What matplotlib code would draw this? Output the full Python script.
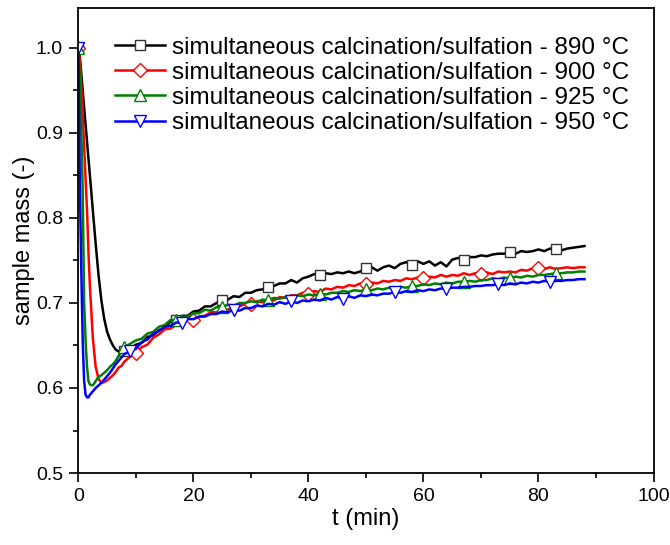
import numpy as np
import matplotlib
matplotlib.use("Agg")
import matplotlib.pyplot as plt
from matplotlib.ticker import MultipleLocator

plt.rcParams['font.family'] = ['Liberation Sans', 'DejaVu Sans']

# time grid (min)
t_early = [0, 0.25, 0.5, 0.75, 1.0, 1.25, 1.5, 1.75, 2.0, 2.5, 3.0, 3.5, 4.0, 4.5,
           5.0, 5.5, 6.0, 6.5, 7.0, 7.5, 8.0]
t_late = list(range(9, 89))
t = np.array(t_early + t_late, dtype=float)

m890 = [1.000, 0.990, 0.970, 0.950, 0.930, 0.910, 0.890, 0.870, 0.850, 0.810, 0.770,
        0.733, 0.703, 0.681, 0.666, 0.657, 0.650, 0.645, 0.643, 0.642, 0.643,
        0.646, 0.651, 0.653, 0.660, 0.662, 0.668, 0.671, 0.678, 0.680, 0.685,
        0.685, 0.690, 0.691, 0.696, 0.696, 0.700, 0.703, 0.704, 0.708, 0.707,
        0.712, 0.712, 0.715, 0.716, 0.719, 0.720, 0.723, 0.723, 0.727, 0.724,
        0.729, 0.731, 0.734, 0.733, 0.735, 0.734, 0.736, 0.735, 0.737, 0.735,
        0.737, 0.741, 0.742, 0.738, 0.742, 0.744, 0.741, 0.746, 0.748, 0.745,
        0.749, 0.746, 0.749, 0.744, 0.748, 0.743, 0.751, 0.753, 0.751, 0.754,
        0.754, 0.756, 0.755, 0.757, 0.758, 0.758, 0.760, 0.758, 0.761, 0.760,
        0.761, 0.763, 0.761, 0.764, 0.763, 0.762, 0.764, 0.765, 0.766, 0.767]

m900 = [1.000, 0.985, 0.955, 0.920, 0.885, 0.845, 0.810, 0.760, 0.720, 0.660, 0.625,
        0.611, 0.606, 0.607, 0.609, 0.612, 0.615, 0.619, 0.624, 0.626, 0.631,
        0.637, 0.641, 0.648, 0.651, 0.659, 0.663, 0.669, 0.670, 0.674, 0.675,
        0.680, 0.680, 0.684, 0.685, 0.689, 0.689, 0.693, 0.692, 0.696, 0.696,
        0.699, 0.699, 0.702, 0.701, 0.704, 0.703, 0.707, 0.706, 0.709, 0.709,
        0.712, 0.711, 0.714, 0.713, 0.717, 0.716, 0.719, 0.718, 0.721, 0.720,
        0.723, 0.722, 0.724, 0.723, 0.726, 0.725, 0.727, 0.726, 0.729, 0.728,
        0.730, 0.729, 0.731, 0.730, 0.733, 0.731, 0.733, 0.732, 0.735, 0.733,
        0.735, 0.734, 0.736, 0.734, 0.737, 0.736, 0.737, 0.736, 0.739, 0.738,
        0.741, 0.741, 0.740, 0.742, 0.740, 0.741, 0.742, 0.741, 0.742, 0.742]

m925 = [1.000, 0.960, 0.905, 0.830, 0.700, 0.655, 0.625, 0.608, 0.604, 0.603, 0.608,
        0.613, 0.615, 0.618, 0.621, 0.625, 0.628, 0.632, 0.638, 0.643, 0.648,
        0.652, 0.656, 0.658, 0.664, 0.666, 0.672, 0.674, 0.680, 0.680, 0.684,
        0.684, 0.688, 0.688, 0.692, 0.691, 0.695, 0.695, 0.698, 0.697, 0.700,
        0.700, 0.702, 0.701, 0.704, 0.703, 0.706, 0.705, 0.707, 0.706, 0.709,
        0.708, 0.710, 0.709, 0.711, 0.710, 0.712, 0.712, 0.714, 0.713, 0.715,
        0.714, 0.716, 0.715, 0.717, 0.716, 0.718, 0.717, 0.719, 0.718, 0.720,
        0.720, 0.722, 0.721, 0.723, 0.722, 0.724, 0.723, 0.725, 0.725, 0.726,
        0.725, 0.727, 0.727, 0.729, 0.728, 0.730, 0.729, 0.731, 0.730, 0.732,
        0.731, 0.733, 0.733, 0.734, 0.735, 0.735, 0.736, 0.736, 0.737, 0.737]

m950 = [1.000, 0.840, 0.740, 0.655, 0.608, 0.592, 0.589, 0.589, 0.592, 0.596, 0.600,
        0.603, 0.606, 0.610, 0.614, 0.618, 0.623, 0.628, 0.632, 0.636, 0.640,
        0.643, 0.646, 0.654, 0.657, 0.664, 0.667, 0.672, 0.673, 0.677, 0.677,
        0.681, 0.681, 0.684, 0.684, 0.687, 0.687, 0.690, 0.689, 0.692, 0.691,
        0.694, 0.694, 0.697, 0.696, 0.699, 0.698, 0.701, 0.699, 0.702, 0.700,
        0.703, 0.702, 0.704, 0.703, 0.706, 0.704, 0.707, 0.705, 0.708, 0.706,
        0.709, 0.708, 0.710, 0.709, 0.711, 0.711, 0.713, 0.712, 0.714, 0.713,
        0.715, 0.714, 0.716, 0.715, 0.717, 0.717, 0.718, 0.718, 0.719, 0.719,
        0.720, 0.720, 0.721, 0.721, 0.722, 0.721, 0.723, 0.722, 0.724, 0.723,
        0.725, 0.724, 0.726, 0.725, 0.726, 0.726, 0.727, 0.727, 0.728, 0.728]

labels = ["simultaneous calcination/sulfation - 890 °C",
          "simultaneous calcination/sulfation - 900 °C",
          "simultaneous calcination/sulfation - 925 °C",
          "simultaneous calcination/sulfation - 950 °C"]
series = [m890, m900, m925, m950]
colors = ["#000000", "#ff0000", "#008000", "#0000ff"]
edge_colors = ["#333333", "#ff0000", "#008000", "#0000ff"]
markers = ["s", "D", "^", "v"]
msizes = [7, 7, 8, 8]
marker_step = [8.33, 10.0, 8.33, 9.15]

fig = plt.figure(figsize=(6.7, 5.45), dpi=100)
ax = fig.add_axes([0.117, 0.1321, 0.8584, 0.8532])

for y, lab, c, ec, mk, ms, step in zip(series, labels, colors, edge_colors,
                                       markers, msizes, marker_step):
    targets = np.arange(0, t[-1] + 0.01, step)
    idx = sorted(set(int(np.argmin(np.abs(t - v))) for v in targets))
    ax.plot(t, y, color=c, lw=1.8, marker=mk, markevery=idx, ms=ms,
            mfc="white", mec=ec, mew=1.0, label=lab)

ax.set_xlim(0, 100)
ax.set_ylim(0.5, 1.047)
ax.xaxis.set_major_locator(MultipleLocator(20))
ax.xaxis.set_minor_locator(MultipleLocator(10))
ax.yaxis.set_major_locator(MultipleLocator(0.1))
ax.yaxis.set_minor_locator(MultipleLocator(0.05))
ax.set_yticks([0.5, 0.6, 0.7, 0.8, 0.9, 1.0])
ax.set_yticklabels(["0.5", "0.6", "0.7", "0.8", "0.9", "1.0"])
ax.tick_params(which="major", direction="out", length=6.5, width=1.2, labelsize=14,
               pad=4.5, top=False, right=False)
ax.tick_params(which="minor", direction="out", length=3.5, width=1.2,
               top=False, right=False)
for s in ax.spines.values():
    s.set_linewidth(1.3)

ax.set_xlabel("t (min)", fontsize=17, labelpad=2)
ax.set_ylabel("sample mass (-)", fontsize=17, labelpad=1)

ax.legend(loc="upper left", bbox_to_anchor=(0.038, 0.97), frameon=False,
          fontsize=17.5, handlelength=2.05, handletextpad=0.29, labelspacing=0.13,
          borderaxespad=0.2)

fig.savefig("out.png", dpi=100)
